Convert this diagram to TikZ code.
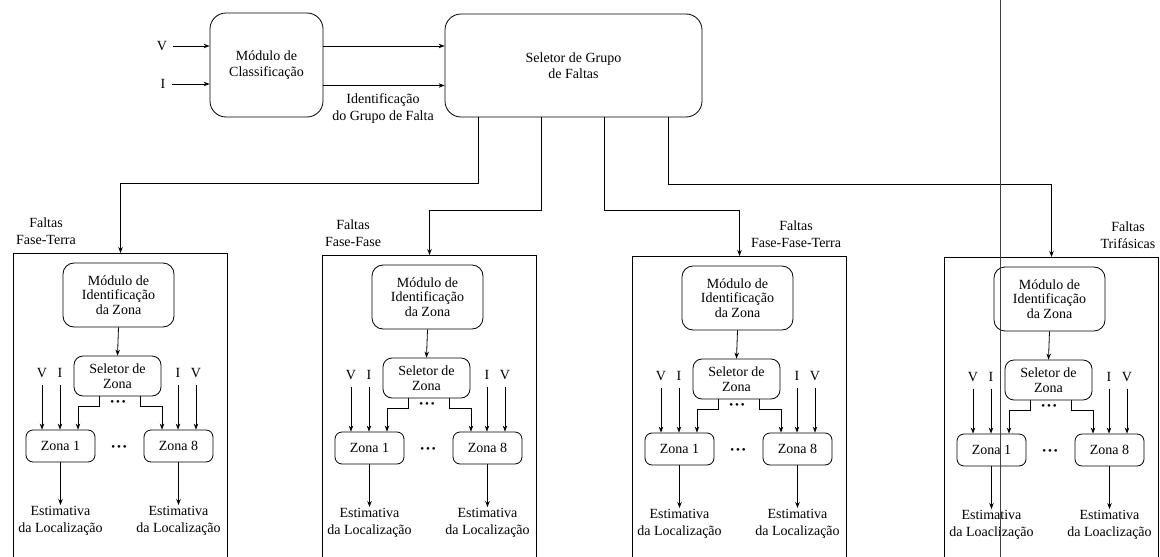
\documentclass[tikz,border=0pt]{standalone}
\usepackage{fontspec}
\setmainfont{Liberation Serif}
\usetikzlibrary{arrows.meta,calc}
\tikzset{
  arr/.style={-{Stealth[length=6pt,width=4.5pt]}, line width=0.8pt},
  ln/.style={line width=0.8pt},
  txt/.style={inner sep=1.5pt, align=center, font=\fontsize{14}{17}\selectfont},
  bigbox/.style={draw, line width=0.8pt, rounded corners=16pt, align=center, inner sep=2pt, font=\fontsize{14}{16}\selectfont},
  modbox/.style={draw, line width=0.8pt, rounded corners=11pt, align=center, inner sep=1pt, minimum width=111pt, minimum height=64pt, font=\fontsize{14}{14.5}\selectfont},
  selbox/.style={draw, line width=0.8pt, rounded corners=9pt, align=center, inner sep=1pt, minimum width=87pt, minimum height=40pt, font=\fontsize{14}{14.5}\selectfont},
  zonebox/.style={draw, line width=0.8pt, rounded corners=7pt, align=center, inner sep=1pt, minimum width=69pt, minimum height=32pt, font=\fontsize{14}{15}\selectfont},
  panelbox/.style={draw, line width=1pt, minimum width=214pt, minimum height=320pt, inner sep=0pt},
  dots/.style={inner sep=0pt, font=\fontsize{11}{11}\selectfont}
}
\newcommand\faultpanel[6]{%
\begin{scope}[shift={(#1,#2)}]
  \node[panelbox, anchor=north west] (p#3) at (0,0) {};
  \node[txt] (lab#3) at (#4,-21.5) {Faltas\\#5};
  \node[modbox] (m#3) at (105.5,42) {Módulo de\\Identificação\\da Zona};
  \node[selbox] (s#3) at (104.5,123) {Seletor de\\Zona};
  \node[zonebox] (za#3) at (47.5,193) {Zona 1};
  \node[zonebox] (zb#3) at (165.5,193) {Zona 8};
  \node[txt, inner sep=0pt] (va#3) at (29,120) {V};
  \node[txt, inner sep=0pt] (ia#3) at (47,120) {I};
  \node[txt, inner sep=0pt] (ib#3) at (165,120) {I};
  \node[txt, inner sep=0pt] (vb#3) at (183,120) {V};
  \node[dots] (d#3) at (105,150) {•\,•\,•};
  \node[dots] (dd#3) at (106,195) {•\,•\,•};
  \node[txt, anchor=north] (ea#3) at (47.5,252) {Estimativa\\da #6};
  \node[txt, anchor=north] (eb#3) at (165.5,252) {Estimativa\\da #6};
  \draw[arr] (m#3.south) -- (s#3.north);
  \draw[arr] ([yshift=-7pt]va#3.south) -- (va#3.south |- za#3.north);
  \draw[arr] ([yshift=-7pt]ia#3.south) -- (ia#3.south |- za#3.north);
  \draw[arr] ([yshift=-7pt]ib#3.south) -- (ib#3.south |- zb#3.north);
  \draw[arr] ([yshift=-7pt]vb#3.south) -- (vb#3.south |- zb#3.north);
  \draw[arr] ([xshift=-18.5pt]s#3.south) -- ++(0,10) -| ([xshift=17.5pt]za#3.north);
  \draw[arr] ([xshift=22.5pt]s#3.south) -- ++(0,10) -| ([xshift=-16.5pt]zb#3.north);
  \draw[arr] (za#3.south) -- (ea#3.north);
  \draw[arr] (zb#3.south) -- (eb#3.north);
\end{scope}}
\begin{document}
\begin{tikzpicture}[x=1pt,y=-1pt]
\useasboundingbox (0,0) rectangle (1160,557);
% top row
\node[txt, inner sep=0pt] (vin) at (162,46) {V};
\node[txt, inner sep=0pt] (iin) at (163,84) {I};
\node[bigbox, minimum width=113pt, minimum height=104pt] (cls) at (266.5,65) {Módulo de\\Classificação};
\node[bigbox, minimum width=257pt, minimum height=103pt] (sel) at (573.5,65.5) {Seletor de Grupo\\de Faltas};
\node[txt] (idl) at (383,109) {Identificação\\do Grupo de Falta};
\draw[arr] ([xshift=6pt]vin.east) -- (vin.east -| cls.west);
\draw[arr] ([xshift=6pt]iin.east) -- (iin.east -| cls.west);
\draw[arr] (cls.east |- vin) -- (sel.west |- vin);
\draw[arr] ([yshift=-1.5pt]cls.east |- iin) -- ([yshift=-1.5pt]sel.west |- iin);
% panels
\faultpanel{13}{253}{1}{33}{Fase-Terra}{Localização}
\faultpanel{322}{255}{2}{31}{Fase-Fase}{Localização}
\faultpanel{632}{256}{3}{164}{Fase-Fase-Terra}{Localização}
\faultpanel{944}{257}{4}{184}{Trifásicas}{Loaclização}
% connectors from group selector
\draw[arr] ([xshift=-95.5pt]sel.south) -- ++(0,66) -| (p1.north);
\draw[arr] ([xshift=-32.5pt]sel.south) -- ++(0,93) -| (p2.north);
\draw[arr] ([xshift=30.5pt]sel.south) -- ++(0,93) -| (p3.north);
\draw[arr] ([xshift=94.5pt]sel.south) -- ++(0,67) -| (p4.north);
% scan line
\draw[line width=0.7pt, black!75] (1000,0) -- (1000,557);
\end{tikzpicture}
\end{document}
